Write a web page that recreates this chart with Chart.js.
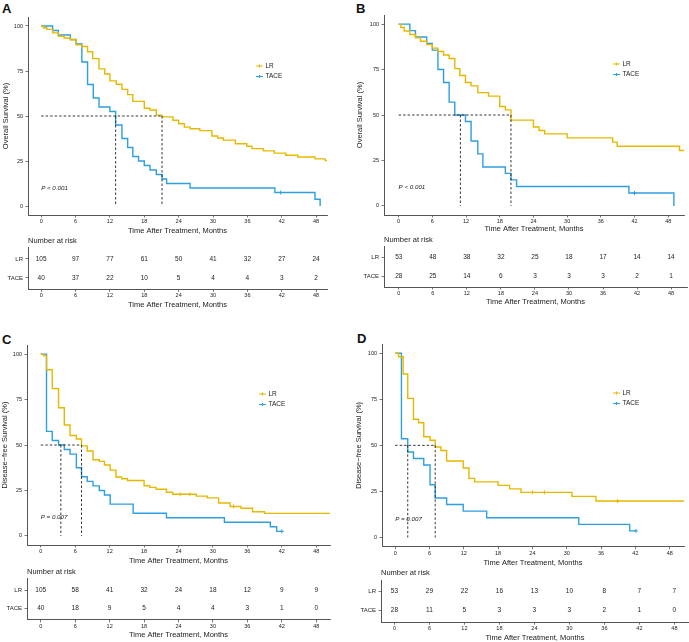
<!DOCTYPE html>
<html>
<head>
<meta charset="utf-8">
<script src="https://cdn.jsdelivr.net/npm/chart.js@4.4.1/dist/chart.umd.min.js"></script>
<style>
  body { margin: 0; background: #fff; width: 689px; height: 642px; position: relative; overflow: hidden; }
  canvas { position: absolute; }
  .tag { position: absolute; font: bold 13px/13px "Liberation Sans", Arial, sans-serif; color: #111; }
</style>
</head>
<body>
<div class="tag" style="left:2px;top:2px">A</div>
<div class="tag" style="left:356px;top:2px">B</div>
<div class="tag" style="left:2px;top:333px">C</div>
<div class="tag" style="left:357px;top:332px">D</div>
<script>
// shared axes
const months = [0, 6, 12, 18, 24, 30, 36, 42, 48];
const survTicks = [0, 25, 50, 75, 100];
const groups = ['LR', 'TACE'];

// A - overall survival
const timeA_LR = [0, 0.4, 1.0, 2.0, 3.0, 4.0, 5.1, 6.1, 7.1, 8.1, 9.0, 10.1, 11.1, 12.0, 13.1, 14.1, 15.1, 16.0, 18.0, 19.0, 20.1, 21.1, 23.0, 24.0, 25.0, 26.0, 27.7, 29.8, 30.8, 31.8, 33.9, 35.9, 36.8, 38.8, 40.7, 42.7, 44.8, 47.8, 49.6, 49.9];
const survA_LR = [100, 99.0, 98.1, 96.2, 94.3, 93.3, 92.4, 89.5, 88.6, 85.7, 81.9, 76.2, 73.3, 69.5, 67.6, 64.8, 61.9, 58.1, 54.3, 53.3, 50.5, 49.5, 47.6, 45.7, 43.8, 42.9, 41.9, 38.9, 37.8, 36.6, 34.6, 33.2, 31.9, 30.6, 29.4, 28.2, 27.2, 26.2, 25.2, 25.2];
const timeA_TACE = [0, 2.0, 3.0, 5.1, 6.1, 7.1, 8.1, 9.1, 10.1, 12.0, 13.0, 14.1, 15.1, 16.0, 17.0, 18.0, 19.0, 20.1, 21.1, 21.9, 26.0, 40.8, 47.8, 48.7];
const survA_TACE = [100, 97.5, 95, 92.5, 90, 80, 67.5, 60, 55, 52.5, 45, 37.5, 32.5, 27.5, 25, 22.5, 20, 17.5, 15, 12.5, 10, 7.5, 3.75, 0];
const censTimeA = [[], [41.8]];
const censSurvA = [[], [7.5]];
const medianA = [21.1, 13.0];
const riskA_LR = [105, 97, 77, 61, 50, 41, 32, 27, 24];
const riskA_TACE = [40, 37, 22, 10, 5, 4, 4, 3, 2];

// B - overall survival, matched
const timeB_LR = [0, 0.4, 1.0, 2.0, 3.0, 3.9, 5.0, 6.0, 7.0, 8.0, 9.0, 10.0, 10.9, 11.9, 12.9, 14.1, 16.0, 18.0, 19.0, 20.0, 24.0, 25.0, 26.0, 30.0, 38.1, 38.9, 50.0, 50.8];
const survB_LR = [100, 98.1, 96.2, 94.3, 92.5, 90.6, 88.7, 86.8, 84.9, 83.0, 81.1, 75.5, 71.7, 67.9, 66.0, 62.3, 60.4, 54.7, 52.8, 47.2, 43.4, 41.5, 39.6, 37.4, 35.1, 32.8, 30.5, 30.5];
const timeB_TACE = [0, 2.0, 3.0, 5.0, 6.0, 7.0, 8.0, 9.0, 10.0, 11.9, 12.9, 14.1, 15.0, 19.0, 20.0, 21.0, 41.0, 49.0];
const survB_TACE = [100, 96.4, 92.9, 89.3, 85.7, 75.0, 67.9, 57.1, 50.0, 46.4, 35.7, 28.6, 21.4, 17.9, 14.3, 10.7, 7.1, 0];
const censTimeB = [[], [42.0]];
const censSurvB = [[], [7.1]];
const medianB = [20.0, 11.0];
const riskB_LR = [53, 48, 38, 32, 25, 18, 17, 14, 14];
const riskB_TACE = [28, 25, 14, 6, 3, 3, 3, 2, 1];

// C - disease-free survival
const timeC_LR = [0, 0.5, 1.0, 2.0, 3.1, 4.1, 5.1, 6.2, 7.1, 8.1, 9.1, 10.2, 11.1, 12.1, 13.1, 14.1, 15.1, 18.0, 19.0, 20.1, 21.9, 23.0, 27.1, 29.0, 31.0, 33.0, 34.9, 36.9, 39.0, 50.4];
const survC_LR = [100, 99.0, 91.4, 81.0, 70.5, 61.0, 55.2, 53.3, 49.5, 46.7, 41.9, 41.0, 39.0, 36.2, 32.4, 31.4, 30.5, 27.6, 26.7, 25.7, 24.0, 22.9, 21.9, 20.9, 18.1, 16.2, 15.2, 13.3, 12.4, 12.4];
const timeC_TACE = [0, 1.0, 2.0, 3.1, 4.1, 5.1, 6.2, 7.1, 8.1, 9.1, 10.2, 11.1, 12.1, 16.1, 21.9, 32.0, 40.0, 41.1, 42.0];
const survC_TACE = [100, 57.5, 52.5, 50, 47.5, 45, 37.5, 32.5, 30, 27.5, 25, 22.5, 17.5, 12.5, 10, 7.5, 5, 2.5, 2.5];
const censTimeC = [[24.3, 26.0, 33.6], [42.0]];
const censSurvC = [[22.9, 22.9, 16.2], [2.5]];
const medianC = [7.1, 3.5];
const riskC_LR = [105, 58, 41, 32, 24, 18, 12, 9, 9];
const riskC_TACE = [40, 18, 9, 5, 4, 4, 3, 1, 0];

// D - disease-free survival, matched
const timeD_LR = [0, 0.6, 1.4, 2.2, 3.2, 4.1, 5.0, 6.1, 7.0, 8.0, 9.0, 11.9, 12.9, 13.9, 18.0, 20.0, 22.0, 30.9, 35.1, 50.5];
const survD_LR = [100, 98.1, 88.7, 75.5, 64.2, 62.3, 54.7, 52.8, 49.1, 47.2, 41.5, 37.7, 32.1, 30.2, 28.3, 26.4, 24.5, 22.3, 19.8, 19.8];
const timeD_TACE = [0, 1.1, 2.2, 3.2, 5.0, 6.1, 7.0, 9.0, 11.9, 16.0, 32.1, 41.0, 42.1];
const survD_TACE = [100, 53.6, 46.4, 42.9, 39.3, 28.6, 21.4, 17.9, 14.3, 10.7, 7.1, 3.6, 3.6];
const censTimeD = [[24.0, 26.1, 38.9], [42.1]];
const censSurvD = [[24.5, 24.5, 19.8], [3.6]];
const medianD = [7.0, 2.2];
const riskD_LR = [53, 29, 22, 16, 13, 10, 8, 7, 7];
const riskD_TACE = [28, 11, 5, 3, 3, 3, 2, 1, 0];

const COLORS = ['#E7B800', '#2E9FDF'];
const TEXT = '#222';
const AXIS = '#555';
const FONT = '"Liberation Sans", Arial, sans-serif';
Chart.defaults.font.family = FONT;
Chart.defaults.color = TEXT;

const panels = [
  { yTitle: 'Overall Survival (%)', pText: 'P < 0.001', xMin: -2.3, xMax: 49.9,
    time: [timeA_LR, timeA_TACE], surv: [survA_LR, survA_TACE], censT: censTimeA, censS: censSurvA,
    median: medianA, risk: [riskA_LR, riskA_TACE],
    plot: { left: 0, top: 0, width: 345, height: 235, area: [28, 17, 327, 215], titleX: 5.5 },
    table: { left: 0, top: 235, width: 345, height: 74, area: [28, 247.6, 327, 289.4] } },
  { yTitle: 'Overall Survival (%)', pText: 'P < 0.001', xMin: -2.6, xMax: 50.8,
    time: [timeB_LR, timeB_TACE], surv: [survB_LR, survB_TACE], censT: censTimeB, censS: censSurvB,
    median: medianB, risk: [riskB_LR, riskB_TACE],
    plot: { left: 345, top: 0, width: 344, height: 233, area: [384, 15, 687, 215], titleX: 360 },
    table: { left: 345, top: 234, width: 344, height: 72, area: [384, 246.7, 687, 287] } },
  { yTitle: 'Disease\u2212free Survival (%)', pText: 'P = 0.007', xMin: -2.4, xMax: 50.4,
    time: [timeC_LR, timeC_TACE], surv: [survC_LR, survC_TACE], censT: censTimeC, censS: censSurvC,
    median: medianC, risk: [riskC_LR, riskC_TACE],
    plot: { left: 0, top: 320, width: 345, height: 245, area: [27, 345, 330, 545], titleX: 4.5 },
    table: { left: 0, top: 565, width: 345, height: 74, area: [27, 578.8, 330, 619.9] } },
  { yTitle: 'Disease\u2212free Survival (%)', pText: 'P = 0.007', xMin: -2.3, xMax: 50.5,
    time: [timeD_LR, timeD_TACE], surv: [survD_LR, survD_TACE], censT: censTimeD, censS: censSurvD,
    median: medianD, risk: [riskD_LR, riskD_TACE],
    plot: { left: 345, top: 320, width: 344, height: 247, area: [382, 344, 689, 546.7], titleX: 358.5 },
    table: { left: 345, top: 566, width: 344, height: 76, area: [381, 580, 689, 622.2] } }
];

function makeCanvas(b) {
  const c = document.createElement('canvas');
  c.width = b.width; c.height = b.height;
  c.style.left = b.left + 'px'; c.style.top = b.top + 'px';
  document.body.appendChild(c);
  return c;
}

const pts = (xs, ys) => xs.map((x, i) => ({ x: x, y: ys[i] }));

function xAxis(p, b) {
  return {
    type: 'linear', min: p.xMin, max: p.xMax,
    afterBuildTicks: s => { s.ticks = months.map(v => ({ value: v })); },
    afterFit: s => { s.height = b.top + b.height - b.area[3]; },
    ticks: { font: { size: 5.5 }, color: TEXT, padding: 0.5, maxRotation: 0, autoSkip: false },
    grid: { drawOnChartArea: false, tickLength: 2.5, color: AXIS, lineWidth: 0.8 },
    border: { color: AXIS, width: 1 },
    title: { display: true, text: 'Time After Treatment, Months', font: { size: 7.5 }, color: TEXT, padding: 0 }
  };
}

function padding(b) {
  return { left: 0, top: b.area[1] - b.top, right: b.left + b.width - b.area[2], bottom: 0 };
}

// P value and in-plot legend
const survNotes = {
  id: 'survNotes',
  afterDatasetsDraw(chart, args, opts) {
    const { ctx, chartArea: a } = chart;
    const x = chart.scales.x, y = chart.scales.y;
    ctx.save();
    ctx.textBaseline = 'middle';
    ctx.fillStyle = TEXT;
    ctx.font = 'italic 6.2px ' + FONT;
    ctx.fillText(opts.pText, x.getPixelForValue(0), y.getPixelForValue(10));
    const lx = a.right - 71, ly = a.top + 49;
    groups.forEach((g, i) => {
      const yy = ly + i * 10.5;
      ctx.strokeStyle = COLORS[i];
      ctx.lineWidth = 1.2;
      ctx.beginPath();
      ctx.moveTo(lx, yy); ctx.lineTo(lx + 7, yy);
      ctx.moveTo(lx + 3.5, yy - 1.5); ctx.lineTo(lx + 3.5, yy + 1.5);
      ctx.stroke();
      ctx.fillStyle = TEXT;
      ctx.font = '6.5px ' + FONT;
      ctx.fillText(g, lx + 9.5, yy);
    });
    ctx.restore();
  }
};

// numbers of the risk table
const riskText = {
  id: 'riskText',
  afterDatasetsDraw(chart) {
    const { ctx, chartArea: a } = chart;
    ctx.save();
    ctx.fillStyle = TEXT;
    ctx.textBaseline = 'middle';
    ctx.textAlign = 'left';
    ctx.font = '7.5px ' + FONT;
    ctx.fillText('Number at risk', a.left, a.top - 7);
    ctx.font = '6.5px ' + FONT;
    ctx.textAlign = 'center';
    chart.data.datasets.forEach((ds, i) => {
      chart.getDatasetMeta(i).data.forEach((el, j) => ctx.fillText(String(ds.counts[j]), el.x, el.y));
    });
    ctx.restore();
  }
};

panels.forEach(p => {
  const b = p.plot;
  const medMax = Math.max(p.median[0], p.median[1]);
  const dash = { showLine: true, borderColor: '#222', borderWidth: 0.9, borderDash: [2.5, 2], pointRadius: 0 };
  const datasets = [
    Object.assign({ data: [{ x: 0, y: 50 }, { x: medMax, y: 50 }] }, dash),
    Object.assign({ data: [{ x: p.median[0], y: 50 }, { x: p.median[0], y: 0 }] }, dash),
    Object.assign({ data: [{ x: p.median[1], y: 50 }, { x: p.median[1], y: 0 }] }, dash)
  ];
  groups.forEach((g, i) => {
    datasets.push({ label: g, data: pts(p.time[i], p.surv[i]), showLine: true, stepped: 'before',
      borderColor: COLORS[i], borderWidth: 1.4, pointRadius: 0 });
    datasets.push({ data: pts(p.censT[i], p.censS[i]), showLine: false, pointStyle: 'cross',
      pointRadius: 2, borderColor: COLORS[i], borderWidth: 1 });
  });

  new Chart(makeCanvas(b), {
    type: 'scatter',
    data: { datasets: datasets },
    options: {
      responsive: false, animation: false,
      layout: { padding: padding(b) },
      plugins: { legend: { display: false }, tooltip: { enabled: false }, survNotes: { pText: p.pText } },
      scales: {
        x: xAxis(p, b),
        y: {
          min: -5, max: 105,
          afterBuildTicks: s => { s.ticks = survTicks.map(v => ({ value: v })); },
          afterFit: s => { s.width = b.area[0] - b.left; },
          ticks: { font: { size: 5.5 }, color: TEXT, padding: 2.5 },
          grid: { drawOnChartArea: false, tickLength: 2.5, color: AXIS, lineWidth: 0.8 },
          border: { color: AXIS, width: 1 },
          title: { display: true, text: p.yTitle, font: { size: 7.5 }, color: TEXT,
            padding: { top: b.titleX - b.left - 4.5, bottom: 0 } }
        }
      }
    },
    plugins: [survNotes]
  });

  const t = p.table;
  new Chart(makeCanvas(t), {
    type: 'scatter',
    data: {
      datasets: groups.map((g, i) => ({
        label: g, counts: p.risk[i], data: months.map(m => ({ x: m, y: i + 1 })), pointRadius: 0
      }))
    },
    options: {
      responsive: false, animation: false,
      layout: { padding: padding(t) },
      plugins: { legend: { display: false }, tooltip: { enabled: false } },
      scales: {
        x: xAxis(p, t),
        y: {
          min: 0.4, max: 2.6, reverse: true,
          afterBuildTicks: s => { s.ticks = [{ value: 1 }, { value: 2 }]; },
          afterFit: s => { s.width = t.area[0] - t.left; },
          ticks: { font: { size: 6 }, color: TEXT, padding: 2.5, callback: v => groups[v - 1] },
          grid: { drawOnChartArea: false, tickLength: 2.5, color: AXIS, lineWidth: 0.8 },
          border: { color: AXIS, width: 1 }
        }
      }
    },
    plugins: [riskText]
  });
});
</script>
</body>
</html>
